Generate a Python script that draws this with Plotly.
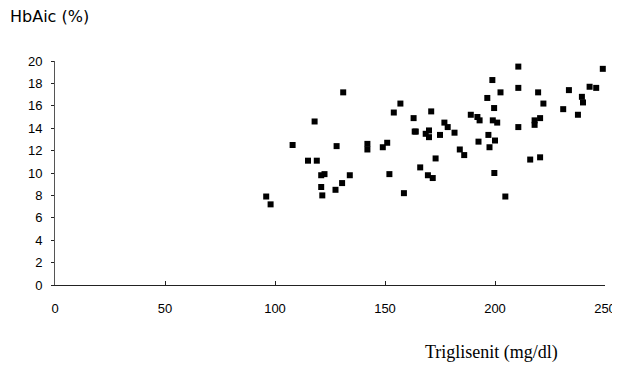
import plotly.graph_objects as go

# Trigliserit (mg/dl) values and HbA1c (%) values
trig = [96, 98, 108, 115, 118, 119, 121, 122.5, 121, 121.5, 127.5, 128, 130.5, 131, 134,
        142, 142, 149, 151, 152, 154, 157, 158.6, 163, 163.5, 164, 166, 168.5, 169.5, 170,
        170, 171, 171.7, 173, 175, 177, 178.5, 181.6, 184, 186, 189, 192, 192.5, 193,
        196.5, 197, 197.5, 198.8, 199, 199.6, 199.7, 200, 201, 202.5, 204.7, 210.6, 210.6,
        210.6, 216, 218, 218, 219.6, 220.5, 220.5, 222, 231, 233.6, 237.7, 239.5, 240,
        243, 246, 249]
hba1c = [7.9, 7.2, 12.5, 11.1, 14.6, 11.1, 9.8, 9.9, 8.75, 8.0, 8.5, 12.4, 9.1, 17.2, 9.8,
         12.1, 12.6, 12.3, 12.7, 9.9, 15.4, 16.2, 8.2, 14.9, 13.7, 13.7, 10.5, 13.5, 9.8, 13.8,
         13.2, 15.5, 9.55, 11.3, 13.4, 14.5, 14.1, 13.6, 12.1, 11.6, 15.2, 15.0, 12.8, 14.7,
         16.7, 13.4, 12.3, 18.3, 14.7, 15.8, 10.0, 12.9, 14.5, 17.2, 7.9, 19.5, 17.6,
         14.1, 11.2, 14.7, 14.3, 17.2, 14.9, 11.4, 16.2, 15.7, 17.4, 15.2, 16.8, 16.3,
         17.7, 17.6, 19.3]

x_ticks = [0, 50, 100, 150, 200, 250]
y_ticks = [0, 2, 4, 6, 8, 10, 12, 14, 16, 18, 20]

fig = go.Figure()
fig.add_trace(go.Scatter(
    x=trig, y=hba1c, mode="markers",
    marker=dict(symbol="square", size=6, color="black"),
    cliponaxis=False, showlegend=False,
))

fig.update_layout(
    width=620, height=367,
    margin=dict(l=47, r=20, t=53, b=90),
    paper_bgcolor="white", plot_bgcolor="white",
    font=dict(family="Arial, Liberation Sans, sans-serif", size=13, color="black"),
    xaxis=dict(range=[0, 250], tickvals=x_ticks, showgrid=False, zeroline=False,
               showline=True, linecolor="#222", linewidth=1,
               ticks="inside", ticklen=4, tickcolor="#222", ticklabelstandoff=11),
    yaxis=dict(range=[0, 20], tickvals=y_ticks, showgrid=False, zeroline=False,
               showline=True, linecolor="#555", linewidth=1,
               ticks="outside", ticklen=3, tickcolor="#222", ticklabelstandoff=6),
    annotations=[
        dict(text="HbAic (%)", xref="paper", yref="paper", x=-0.085, y=1.0,
             xanchor="left", yanchor="middle", yshift=45, showarrow=False,
             font=dict(family="DejaVu Sans, sans-serif", size=16)),
        dict(text="Triglisenit (mg/dl)", xref="paper", yref="paper", x=0.794, y=0,
             xanchor="center", yanchor="middle", yshift=-67, showarrow=False,
             font=dict(family="Liberation Serif, Times New Roman, serif", size=18)),
    ],
)

fig.write_html("out.html")
